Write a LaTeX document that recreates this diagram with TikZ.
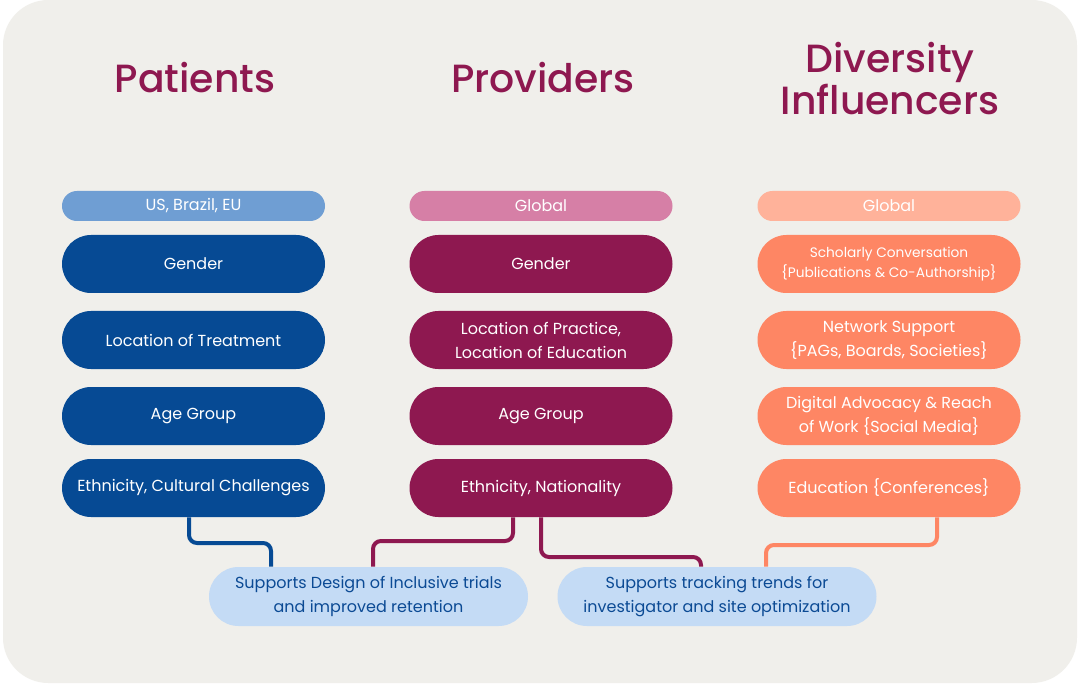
\documentclass[tikz,border=0pt]{standalone}
\usepackage{fontspec}
\setmainfont{Poppins}
\newfontfamily\titlefont{Poppins Medium}
\usetikzlibrary{backgrounds}
\definecolor{cardbg}{HTML}{F0EFEB}
\definecolor{titlec}{HTML}{8E1850}
\definecolor{patdark}{HTML}{064A94}
\definecolor{patlight}{HTML}{6F9ED3}
\definecolor{prodark}{HTML}{8E1850}
\definecolor{prolight}{HTML}{D67FA6}
\definecolor{infdark}{HTML}{FE8664}
\definecolor{inflight}{HTML}{FFB29A}
\definecolor{supbg}{HTML}{C4DBF5}
\definecolor{suptext}{HTML}{0B4A94}
\tikzset{
  titletext/.style={text=titlec, font=\titlefont\fontsize{29.5}{26}\selectfont, align=center, inner sep=0},
  hdr/.style={minimum width=197.25pt, minimum height=22.5pt, rounded corners=11.2pt, text=white, inner sep=0, font=\fontsize{12}{14}\selectfont},
  pill/.style={minimum width=197.25pt, minimum height=43.5pt, rounded corners=21.7pt, text=white, inner sep=0, align=center, font=\fontsize{12}{18}\selectfont},
  smalltext/.style={font=\fontsize{10.3}{15}\selectfont},
  suppill/.style={minimum width=239.25pt, minimum height=44.25pt, rounded corners=22.1pt, fill=supbg, text=suptext, inner sep=0, align=center, font=\fontsize{12}{18}\selectfont},
  conn/.style={line width=3pt, rounded corners=6pt},
}
\begin{document}
\begin{tikzpicture}[x=0.75pt,y=-0.75pt]
\useasboundingbox (0,0) rectangle (1078,684);
% titles
\node[titletext] (tpat) at (195,78) {Patients};
\node[titletext] (tpro) at (543,78) {Providers};
\node[titletext] (tinf) at (890,78.5) {Diversity\\Influencers};
% patients
\node[hdr, fill=patlight] (ph) at (193.5,206) {US, Brazil, EU};
\node[pill, fill=patdark] (p1) at (193.5,264) {Gender};
\node[pill, fill=patdark] (p2) at (193.5,340) {Location of Treatment};
\node[pill, fill=patdark] (p3) at (193.5,416) {Age Group};
\node[pill, fill=patdark] (p4) at (193.5,488) {Ethnicity, Cultural Challenges};
% providers
\node[hdr, fill=prolight] (rh) at (541,206) {Global};
\node[pill, fill=prodark] (r1) at (541,264) {Gender};
\node[pill, fill=prodark] (r2) at (541,340) {Location of Practice,\\Location of Education};
\node[pill, fill=prodark] (r3) at (541,416) {Age Group};
\node[pill, fill=prodark] (r4) at (541,488) {Ethnicity, Nationality};
% influencers
\node[hdr, fill=inflight] (ih) at (889,206) {Global};
\node[pill, smalltext, fill=infdark] (i1) at (889,264) {Scholarly Conversation\\\{Publications \& Co-Authorship\}};
\node[pill, fill=infdark] (i2) at (889,340) {Network Support\\\{PAGs, Boards, Societies\}};
\node[pill, fill=infdark] (i3) at (889,416) {Digital Advocacy \& Reach\\of Work \{Social Media\}};
\node[pill, fill=infdark] (i4) at (889,488) {Education \{Conferences\}};
% support pills
\node[suppill] (sl) at (368.5,596.5) {Supports Design of Inclusive trials\\and improved retention};
\node[suppill] (sr) at (717,596.5) {Supports tracking trends for\\investigator and site optimization};
\begin{pgfonlayer}{background}
\fill[white] (0,0) rectangle (1078,684);
\fill[cardbg, rounded corners=34pt] (3,0) rectangle (1077,683);
\draw[conn, draw=patdark] (p4.south -| 189,0) -- (189,543) -- (271,543) -- (sl.north -| 271,0);
\draw[conn, draw=prodark] (r4.south -| 513,0) -- (513,541) -- (373,541) -- (sl.north -| 373,0);
\draw[conn, draw=prodark] (r4.south -| 541,0) -- (541,557) -- (701,557) -- (sr.north -| 701,0);
\draw[conn, draw=infdark] (i4.south -| 937,0) -- (937,545) -- (766,545) -- (sr.north -| 766,0);
\end{pgfonlayer}
\end{tikzpicture}
\end{document}
